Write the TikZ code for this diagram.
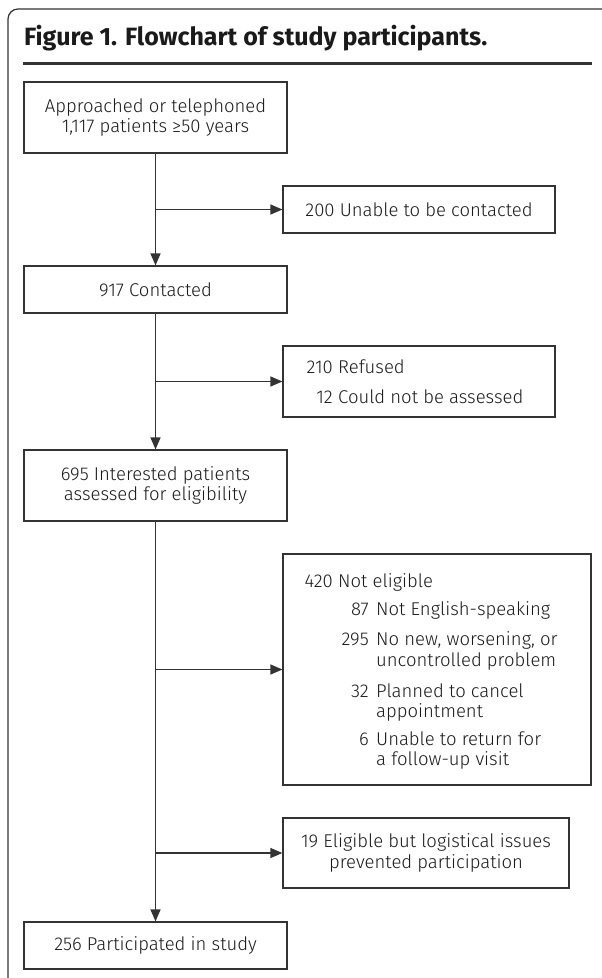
\documentclass[tikz,border=0pt]{standalone}
\usepackage{fontspec}
\setmainfont{Fira Sans Light}[BoldFont={Fira Sans Bold}]
\usetikzlibrary{arrows.meta,calc}
\definecolor{ln}{HTML}{333333}
\definecolor{tx}{HTML}{1a1a1a}
\begin{document}
\begin{tikzpicture}[x=1pt,y=-1pt,
  box/.style={draw=ln, line width=1.2pt, rectangle, inner sep=0pt, align=center,
    text=tx, font=\fontsize{18.5}{20.5}\selectfont},
  txt/.style={inner sep=0pt, text=tx, font=\fontsize{18.5}{20.5}\selectfont},
  arr/.style={draw=ln, line width=1.2pt, -{Triangle[length=12pt,width=10pt]}},
  lin/.style={draw=ln, line width=1.2pt}]
\clip (0,0) rectangle (602,978);
\fill[white] (0,0) rectangle (602,978);
% outer frame
\draw[ln, line width=1.2pt, rounded corners=10pt] (8,9) rectangle (640,1020);
% title
\node[anchor=base west, inner sep=0pt, text=tx, font=\fontsize{25}{30}\selectfont\bfseries] (title) at (24,45) {Figure 1. Flowchart of study participants.};
\draw[ln, line width=3pt] (23,63) -- (592,63);
% boxes
\node[box, minimum width=263pt, minimum height=71pt] (b1) at (155.5,117.5) {Approached or telephoned\\1,117 patients ≥50 years};
\node[box, minimum width=272pt, minimum height=47pt] (b200) at (419,209.5) {200 Unable to be contacted};
\node[box, minimum width=263pt, minimum height=47pt] (b917) at (155.5,289.5) {917 Contacted};
\node[box, minimum width=272pt, minimum height=71pt] (b210) at (419,381.5) {};
\node[box, minimum width=263pt, minimum height=71pt] (b695) at (155.5,485.5) {695 Interested patients\\assessed for eligibility};
\node[box, minimum width=308pt, minimum height=231pt] (b420) at (437,669.5) {};
\node[box, minimum width=286pt, minimum height=70pt] (b19) at (426,853) {19 Eligible but logistical issues\\prevented participation};
\node[box, minimum width=263pt, minimum height=47pt] (b256) at (155.5,945.5) {256 Participated in study};
% box 210 text
\node[txt, anchor=base east] (r1n) at (333,373) {210};
\node[txt, anchor=base west] (r1t) at (338,373) {Refused};
\node[txt, anchor=base east] (r2n) at (333,403) {12};
\node[txt, anchor=base west] (r2t) at (338,403) {Could not be assessed};
% box 420 text
\node[txt, anchor=base east] (e0n) at (333,587) {420};
\node[txt, anchor=base west] (e0t) at (338,587) {Not eligible};
\node[txt, anchor=base east] (e1n) at (369,615) {87};
\node[txt, anchor=base west] (e1t) at (376,615) {Not English-speaking};
\node[txt, anchor=base east] (e2n) at (369,645) {295};
\node[txt, anchor=base west] (e2t) at (376,645) {No new, worsening, or};
\node[txt, anchor=base west] (e2u) at (376,666) {uncontrolled problem};
\node[txt, anchor=base east] (e3n) at (369,697) {32};
\node[txt, anchor=base west] (e3t) at (376,697) {Planned to cancel};
\node[txt, anchor=base west] (e3u) at (376,717) {appointment};
\node[txt, anchor=base east] (e4n) at (369,745) {6};
\node[txt, anchor=base west] (e4t) at (376,745) {Unable to return for};
\node[txt, anchor=base west] (e4u) at (376,765) {a follow-up visit};
% connectors
\draw[arr] (b1.south) -- (b917.north);
\draw[arr] (b1.south |- b200.west) -- (b200.west);
\draw[arr] (b917.south) -- (b695.north);
\draw[arr] (b917.south |- b210.west) -- (b210.west);
\draw[arr] (b695.south) -- (b256.north);
\draw[arr] (b695.south |- b420.west) -- (b420.west);
\draw[arr] (b695.south |- b19.west) -- (b19.west);
\end{tikzpicture}
\end{document}
